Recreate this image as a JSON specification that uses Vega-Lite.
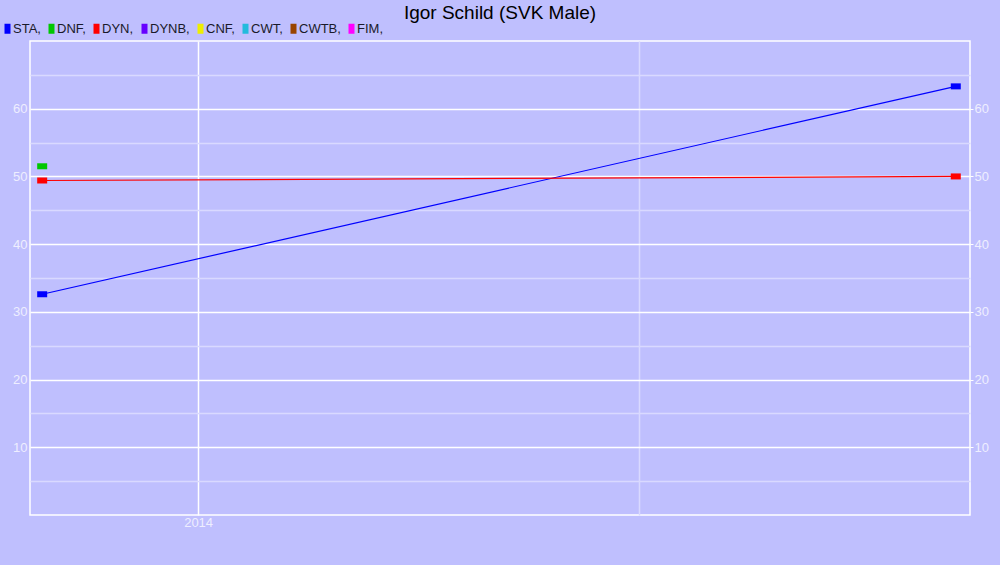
{
  "$schema": "https://vega.github.io/schema/vega-lite/v6.json",
  "width": 940,
  "height": 474,
  "autosize": "none",
  "padding": {"left": 30, "top": 41, "right": 30, "bottom": 50},
  "background": "#BFBFFE",
  "config": {
    "view": {"stroke": "white", "strokeWidth": 1.5, "fill": "#BFBFFE"},
    "font": "Liberation Sans",
    "axis": {
      "labelFont": "Liberation Sans",
      "labelFontSize": 13,
      "labelColor": "#EEEEFF",
      "domain": false,
      "ticks": false,
      "title": null,
      "gridOpacity": 1
    }
  },
  "title": {
    "text": "Igor Schild (SVK Male)",
    "font": "Liberation Sans",
    "fontSize": 19,
    "fontWeight": "normal",
    "color": "black",
    "anchor": "middle",
    "offset": 14,
    "dy": 15
  },
  "data": {
    "values": [
      {"series": "STA", "date": "2013-10-29", "value": 32.6},
      {"series": "STA", "date": "2014-11-08", "value": 63.3},
      {"series": "DYN", "date": "2013-10-29", "value": 49.4},
      {"series": "DYN", "date": "2014-11-08", "value": 50.0},
      {"series": "DNF", "date": "2013-10-29", "value": 51.5}
    ]
  },
  "encoding": {
    "x": {
      "field": "date",
      "type": "temporal",
      "scale": {"type": "utc", "domain": ["2013-10-24", "2014-11-13T20:00:00"]},
      "axis": null
    },
    "y": {
      "field": "value",
      "type": "quantitative",
      "scale": {"domain": [0, 70], "nice": false, "zero": false},
      "axis": null
    }
  },
  "layer": [
    {
      "mark": {"type": "point", "opacity": 0},
      "encoding": {
        "x": {
          "field": "date",
          "type": "temporal",
          "axis": {
            "orient": "bottom",
            "values": [{"year": 2014, "month": 7, "date": 1, "utc": true}],
            "labels": false,
            "grid": true,
            "gridColor": "#D9D9FF",
            "gridWidth": 1.5
          }
        },
        "y": {
          "field": "value",
          "type": "quantitative",
          "axis": {
            "orient": "left",
            "values": [5, 15, 25, 35, 45, 55, 65],
            "labels": false,
            "grid": true,
            "gridColor": "#D9D9FF",
            "gridWidth": 1.5
          }
        }
      }
    },
    {
      "mark": {"type": "point", "opacity": 0},
      "encoding": {
        "x": {
          "field": "date",
          "type": "temporal",
          "axis": {
            "orient": "bottom",
            "values": [{"year": 2014, "month": 1, "date": 1, "utc": true}],
            "format": "%Y",
            "formatType": "utc",
            "grid": true,
            "gridColor": "white",
            "gridWidth": 1.5,
            "labelPadding": 1
          }
        },
        "y": {
          "field": "value",
          "type": "quantitative",
          "axis": {
            "orient": "left",
            "values": [10, 20, 30, 40, 50, 60],
            "grid": true,
            "gridColor": "white",
            "gridWidth": 1.5,
            "labelPadding": 3
          }
        }
      }
    },
    {
      "mark": {"type": "point", "opacity": 0},
      "encoding": {
        "y": {
          "field": "value",
          "type": "quantitative",
          "axis": {
            "orient": "right",
            "values": [10, 20, 30, 40, 50, 60],
            "grid": false,
            "ticks": true,
            "tickColor": "white",
            "tickSize": 3,
            "labelPadding": 1
          }
        }
      }
    },
    {
      "transform": [{"filter": "datum.series !== 'DNF'"}],
      "mark": {"type": "line", "strokeWidth": 1.2},
      "encoding": {
        "detail": {"field": "series"},
        "stroke": {
          "field": "series",
          "type": "nominal",
          "scale": {"domain": ["STA", "DYN"], "range": ["#0000FF", "#FF0000"]},
          "legend": null
        }
      }
    },
    {
      "mark": {
        "type": "point",
        "filled": true,
        "opacity": 1,
        "shape": "M-1,-0.6H1V0.6H-1Z",
        "size": 100
      },
      "encoding": {
        "color": {
          "field": "series",
          "type": "nominal",
          "scale": {
            "domain": ["STA", "DNF", "DYN", "DYNB", "CNF", "CWT", "CWTB", "FIM"],
            "range": ["#0000FF", "#00C800", "#FF0000", "#6600FF", "#EEEE00", "#22BBDD", "#994400", "#FF00FF"]
          },
          "legend": {
            "orient": "none",
            "legendX": -31,
            "legendY": -19,
            "direction": "horizontal",
            "columns": 8,
            "title": null,
            "padding": 0,
            "symbolType": "M-0.2,-1H1V1H-0.2Z",
            "symbolSize": 100,
            "symbolStrokeWidth": 0,
            "symbolOpacity": 1,
            "labelFont": "Liberation Sans",
            "labelFontSize": 13,
            "labelColor": "#1A1A2A",
            "labelOffset": 1,
            "columnPadding": 2,
            "labelExpr": "datum.label + ','"
          }
        }
      }
    }
  ],
  "resolve": {"axis": {"x": "independent", "y": "independent"}}
}
